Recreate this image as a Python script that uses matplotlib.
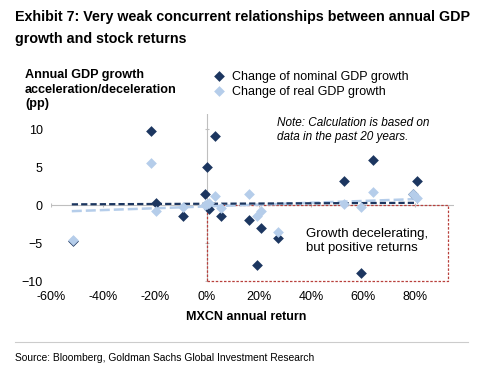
import matplotlib
matplotlib.use("Agg")
import matplotlib.pyplot as plt
from matplotlib.patches import Rectangle
from matplotlib.ticker import FuncFormatter

SANS = ["Liberation Sans", "DejaVu Sans"]
plt.rcParams["font.family"] = SANS

DARK = "#1c3660"
LIGHT = "#b5cdea"
BOX = "#b8403c"

# MXCN annual return (fraction) vs change in GDP growth (pp)
mxcn_ret = [-0.517, -0.217, -0.197, -0.093, -0.008, -0.001, 0.008, 0.032, 0.054,
            0.163, 0.191, 0.206, 0.273, 0.528, 0.593, 0.640, 0.792, 0.808]
nominal_chg = [-4.7, 9.7, 0.3, -1.4, 1.4, 5.0, -0.5, 9.1, -1.4,
               -1.9, -7.9, -3.0, -4.3, 3.2, -8.9, 6.0, 1.5, 3.2]
real_chg = [-4.6, 5.6, -0.8, -0.3, 0.0, 0.1, 0.3, 1.2, -0.4,
            1.4, -1.5, -0.8, -3.5, 0.1, -0.2, 1.7, 1.4, 1.0]

# linear trend lines
trend_x = [-0.52, 0.81]
trend_nominal = [0.1, 0.3]
trend_real = [-0.8, 0.8]

x_ticks = [-0.6, -0.4, -0.2, 0.0, 0.2, 0.4, 0.6, 0.8]
y_ticks = [-10, -5, 0, 5, 10]
x_lim = (-0.6, 0.95)
y_lim = (-10, 12)

fig = plt.figure(figsize=(5, 3.73), dpi=100)
ax = fig.add_axes([0.102, 0.2466, 0.806, 0.4478])

for s in ax.spines.values():
    s.set_visible(False)

ax.set_xlim(*x_lim)
ax.set_ylim(*y_lim)
ax.set_xticks(x_ticks)
ax.set_yticks(y_ticks)
ax.xaxis.set_major_formatter(FuncFormatter(lambda v, p: f"{v*100:.0f}%"))
ax.tick_params(length=0, labelsize=9, colors="#000000", pad=6)
ax.tick_params(axis="x", pad=7)

# axis lines crossing at zero, with small tick marks
ax.axhline(0, color="#bfbfbf", lw=0.8, zorder=1)
ax.axvline(0, color="#bfbfbf", lw=0.8, zorder=1)
ax.plot(x_ticks, [0] * len(x_ticks), ls="none", marker="|", ms=3,
        mew=0.8, color="#bfbfbf", zorder=1)
ax.plot([0] * len(y_ticks), y_ticks, ls="none", marker="_", ms=3,
        mew=0.8, color="#bfbfbf", zorder=1)

# highlight box: growth decelerating but positive returns
ax.add_patch(Rectangle((0, y_lim[0]), 0.925, -y_lim[0], fill=False,
                       ec=BOX, lw=0.9, ls=(0, (2, 1.3)), zorder=2, clip_on=False))

ax.plot(trend_x, trend_real, color=LIGHT, lw=1.8, ls=(0, (4, 1.6)), zorder=3)
ax.plot(trend_x, trend_nominal, color=DARK, lw=1.6, ls=(0, (2.8, 1.4)), zorder=3)

ax.scatter(mxcn_ret, nominal_chg, marker="D", s=30, color=DARK, lw=0, zorder=4,
           label="Change of nominal GDP growth")
ax.scatter(mxcn_ret, real_chg, marker="D", s=30, color=LIGHT, lw=0, zorder=5,
           label="Change of real GDP growth")

ax.legend(loc="upper left", bbox_to_anchor=(0.385, 1.29), frameon=False,
          fontsize=9, handletextpad=0.5, labelspacing=0.25, borderaxespad=0,
          handlelength=1.2)

ax.text(0.27, 11.55, "Note: Calculation is based on\ndata in the past 20 years.",
        fontsize=8.5, style="italic", va="top", ha="left", linespacing=1.15)
ax.text(0.38, -3.05, "Growth decelerating,\nbut positive returns",
        fontsize=9.5, va="top", ha="left", linespacing=1.15)

fig.text(0.05, 0.815, "Annual GDP growth\nacceleration/deceleration\n(pp)",
         fontsize=9.1, fontweight="bold", ha="left", va="top", linespacing=1.3)
fig.text(0.492, 0.15, "MXCN annual return", fontsize=9, fontweight="bold",
         ha="center", va="center")

fig.text(0.03, 0.972, "Exhibit 7: Very weak concurrent relationships between annual GDP\n"
         "growth and stock returns", fontsize=10.3,
         fontweight="bold", ha="left", va="top", linespacing=1.65)

fig.add_artist(plt.Line2D([0.03, 0.936], [0.083, 0.083], color="#cccccc", lw=0.8))
fig.text(0.03, 0.04, "Source: Bloomberg, Goldman Sachs Global Investment Research",
         fontsize=7.4, ha="left", va="center")

fig.savefig("out.png", dpi=100, facecolor="white")
